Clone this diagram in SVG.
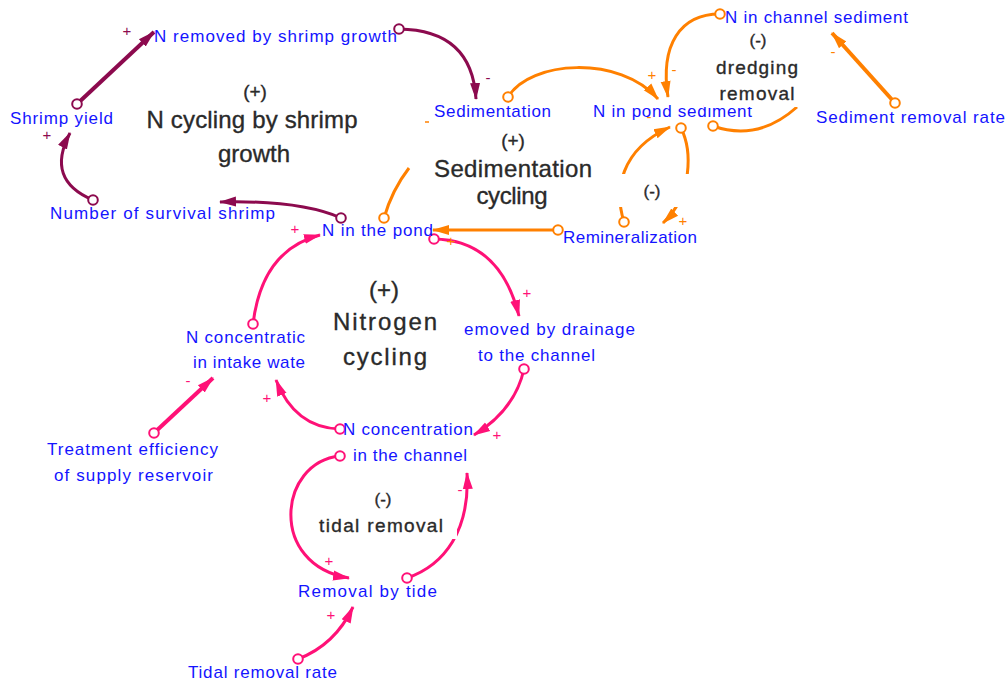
<svg xmlns="http://www.w3.org/2000/svg" width="1008" height="684" viewBox="0 0 1008 684">
  <style>
    .node { font-family: "Liberation Sans", Arial, sans-serif; font-size: 17px; fill: #1414ff; }
    .loop { font-family: "Liberation Sans", Arial, sans-serif; fill: #2a2a2a; stroke: #2a2a2a; stroke-width: 0.35; text-anchor: middle; }
    .big { font-size: 24px; }
    .mid { font-size: 19px; }
    .pol { font-family: "Liberation Sans", Arial, sans-serif; font-size: 15px; text-anchor: middle; }
    .c-pu { fill: none; stroke: #8c0a4e; stroke-width: 3; marker-start: url(#o-pu); marker-end: url(#a-pu); }
    .c-or { fill: none; stroke: #ff8000; stroke-width: 3; marker-start: url(#o-or); marker-end: url(#a-or); }
    .c-pk { fill: none; stroke: #ff1177; stroke-width: 3; marker-start: url(#o-pk); marker-end: url(#a-pk); }
    .thick { stroke-width: 4; }
    .noend { marker-end: none; }
    .bg { fill: #ffffff; }
  </style>
  <defs>
    <marker id="a-pu" markerUnits="userSpaceOnUse" markerWidth="17" markerHeight="12" refX="16" refY="6" orient="auto"><path d="M0,1 L17,6 L0,11 z" fill="#8c0a4e"/></marker>
    <marker id="a-or" markerUnits="userSpaceOnUse" markerWidth="17" markerHeight="12" refX="16" refY="6" orient="auto"><path d="M0,1 L17,6 L0,11 z" fill="#ff8000"/></marker>
    <marker id="a-pk" markerUnits="userSpaceOnUse" markerWidth="17" markerHeight="12" refX="16" refY="6" orient="auto"><path d="M0,1 L17,6 L0,11 z" fill="#ff1177"/></marker>
    <marker id="o-pu" markerUnits="userSpaceOnUse" markerWidth="14" markerHeight="14" refX="7" refY="7"><circle cx="7" cy="7" r="4.8" fill="#ffffff" stroke="#8c0a4e" stroke-width="2"/></marker>
    <marker id="o-or" markerUnits="userSpaceOnUse" markerWidth="14" markerHeight="14" refX="7" refY="7"><circle cx="7" cy="7" r="4.8" fill="#ffffff" stroke="#ff8000" stroke-width="2"/></marker>
    <marker id="o-pk" markerUnits="userSpaceOnUse" markerWidth="14" markerHeight="14" refX="7" refY="7"><circle cx="7" cy="7" r="4.8" fill="#ffffff" stroke="#ff1177" stroke-width="2"/></marker>
  </defs>

  <!-- causal links -->
  <g id="connectors">
    <!-- shrimp growth loop -->
    <path class="c-pu thick" d="M77,104 L154,32"/>
    <path class="c-pu" d="M399,29 Q472,30 476,99"/>
    <path class="c-pu" d="M93,200 Q45,180 70,133"/>
    <path class="c-pu" d="M341,218 Q300,200 220,202"/>
    <!-- sediment loops -->
    <path class="c-or" d="M508,97 C530,60 620,55 658,99"/>
    <path class="c-or" d="M720,14 C680,14 660,45 668,97"/>
    <path class="c-or thick" d="M895,103 L832,33"/>
    <path class="c-or noend" d="M713,126 Q758,142 797,107"/>
    <path class="c-or" d="M681,128 C692,150 693,195 663,223"/>
    <path class="c-or" d="M624,222 C614,190 620,150 670,127"/>
    <path class="c-or" d="M558,230 L433,230"/>
    <path class="c-or noend" d="M384,218 Q392,190 409,168"/>
    <line x1="425" y1="122" x2="429" y2="122" stroke="#ff8000" stroke-width="1.5"/>
    <!-- nitrogen loop -->
    <path class="c-pk" d="M434,239 Q500,240 519,316"/>
    <path class="c-pk" d="M524,369 Q515,410 474,435"/>
    <path class="c-pk" d="M340,429 Q295,428 276,380"/>
    <path class="c-pk" d="M253,324 Q262,250 320,235"/>
    <path class="c-pk thick" d="M154,433 L213,378"/>
    <!-- tidal loop -->
    <path class="c-pk" d="M340,456 C278,462 268,565 349,578"/>
    <path class="c-pk" d="M407,578 C445,565 470,530 467,473"/>
    <path class="c-pk" d="M298,659 Q335,645 353,607"/>
  </g>

  <!-- link polarities -->
  <g id="polarities">
    <text class="pol" x="127" y="36" fill="#8c0a4e">+</text>
    <text class="pol" x="47" y="140" fill="#8c0a4e">+</text>
    <text class="pol" x="488" y="83" fill="#8c0a4e">-</text>
    <text class="pol" x="652" y="80" fill="#ff8000">+</text>
    <text class="pol" x="674" y="75" fill="#ff8000">-</text>
    <text class="pol" x="649" y="122" fill="#ff8000">-</text>
    <text class="pol" x="683" y="226" fill="#ff8000">+</text>
    <text class="pol" x="833" y="57" fill="#ff8000">-</text>
    <text class="pol" x="451" y="246" fill="#ff8000">+</text>
    <text class="pol" x="527" y="298" fill="#ff1177">+</text>
    <text class="pol" x="295" y="234" fill="#ff1177">+</text>
    <text class="pol" x="188" y="386" fill="#ff1177">-</text>
    <text class="pol" x="267" y="403" fill="#ff1177">+</text>
    <text class="pol" x="497" y="440" fill="#ff1177">+</text>
    <text class="pol" x="329" y="566" fill="#ff1177">+</text>
    <text class="pol" x="460" y="495" fill="#ff1177">-</text>
    <text class="pol" x="331" y="620" fill="#ff1177">+</text>
  </g>

  <!-- variables -->
  <g id="n-removed-shrimp"><text class="node" x="154" y="42" textLength="243">N removed by shrimp growth</text></g>
  <g id="shrimp-yield"><text class="node" x="10" y="124" textLength="103">Shrimp yield</text></g>
  <g id="survival-shrimp"><text class="node" x="50" y="219" textLength="225">Number of survival shrimp</text></g>
  <g id="n-pond"><text class="node" x="322" y="236" textLength="111">N in the pond</text></g>
  <g id="sedimentation"><text class="node" x="434" y="117" textLength="117">Sedimentation</text></g>
  <g id="n-pond-sediment"><text class="node" x="593" y="117" textLength="159">N in pond sediment</text></g>
  <g id="n-channel-sediment"><text class="node" x="725" y="23" textLength="183">N in channel sediment</text></g>
  <g id="sediment-removal-rate"><text class="node" x="816" y="123" textLength="189">Sediment removal rate</text></g>
  <g id="remineralization"><text class="node" x="563" y="243" textLength="134">Remineralization</text></g>
  <g id="removed-drainage">
    <text class="node" x="464" y="335" textLength="171">emoved by drainage</text>
    <text class="node" x="478" y="361" textLength="117">to the channel</text>
  </g>
  <g id="n-intake">
    <text class="node" x="186" y="343" textLength="119">N concentratic</text>
    <text class="node" x="193" y="368" textLength="112">in intake wate</text>
  </g>
  <g id="treatment-efficiency">
    <text class="node" x="47" y="455" textLength="171">Treatment efficiency</text>
    <text class="node" x="54" y="481" textLength="159">of supply reservoir</text>
  </g>
  <g id="n-channel">
    <text class="node" x="343" y="435" textLength="130">N concentration</text>
    <text class="node" x="353" y="461" textLength="114">in the channel</text>
  </g>
  <g id="removal-tide"><text class="node" x="298" y="597" textLength="139">Removal by tide</text></g>
  <g id="tidal-removal-rate"><text class="node" x="188" y="678" textLength="149">Tidal removal rate</text></g>

  <!-- loop labels -->
  <g id="loop-shrimp">
    <text class="loop mid" x="255" y="98">(+)</text>
    <text class="loop big" x="252" y="128" textLength="211">N cycling by shrimp</text>
    <text class="loop big" x="254" y="162" textLength="72">growth</text>
  </g>
  <g id="loop-sedimentation">
    <text class="loop mid" x="513" y="147">(+)</text>
    <text class="loop big" x="513" y="177" textLength="158">Sedimentation</text>
    <text class="loop big" x="512" y="204" textLength="71">cycling</text>
  </g>
  <g id="loop-nitrogen">
    <text class="loop big" x="384" y="298">(+)</text>
    <text class="loop big" x="385" y="330" textLength="104">Nitrogen</text>
    <text class="loop big" x="385" y="365" textLength="84">cycling</text>
  </g>
  <g id="loop-remineralization">
    <rect class="bg" x="612" y="174" width="84" height="33"/>
    <text class="loop" x="652" y="197" font-size="17">(-)</text>
  </g>
  <g id="loop-dredging">
    <rect class="bg" x="704" y="27" width="97" height="80"/>
    <text class="loop" x="758" y="46" font-size="17">(-)</text>
    <text class="loop mid" x="757" y="74" textLength="82">dredging</text>
    <text class="loop mid" x="757" y="100" textLength="75">removal</text>
  </g>
  <g id="loop-tidal">
    <rect class="bg" x="306" y="484" width="151" height="55"/>
    <text class="loop" x="383" y="505" font-size="17">(-)</text>
    <text class="loop mid" x="381" y="532" textLength="124">tidal removal</text>
  </g>
</svg>
